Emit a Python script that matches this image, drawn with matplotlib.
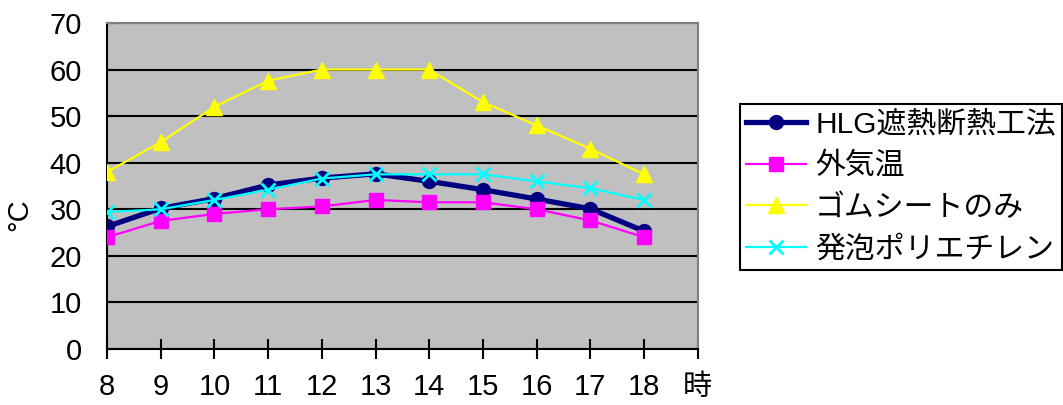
import matplotlib
matplotlib.use('Agg')
import matplotlib.pyplot as plt

plt.rcParams['font.family'] = ['Liberation Sans', 'Noto Sans CJK JP', 'DejaVu Sans']

hours = [8, 9, 10, 11, 12, 13, 14, 15, 16, 17, 18]
x_ticks = [8, 9, 10, 11, 12, 13, 14, 15, 16, 17, 18, 19]
x_tick_labels = ['8', '9', '10', '11', '12', '13', '14', '15', '16', '17', '18', '時']

hlg = [26.3, 30.2, 32.3, 35.2, 36.7, 37.6, 36.0, 34.2, 32.2, 30.1, 25.3]
gaikion = [24.0, 27.5, 29.0, 30.0, 30.6, 32.0, 31.5, 31.5, 30.0, 27.6, 24.0]
gomu = [38.0, 44.4, 52.0, 57.6, 60.0, 60.0, 60.0, 53.0, 48.0, 43.0, 37.5]
happo = [29.4, 30.0, 32.0, 34.2, 36.6, 37.5, 37.5, 37.5, 36.0, 34.5, 32.0]

fig = plt.figure(figsize=(10.63, 4.05), dpi=100)
ax = fig.add_axes([0.1007, 0.1383, 0.5557, 0.8050])
ax.set_facecolor('#C0C0C0')

ax.plot(hours, hlg, color='#000080', linewidth=3.8, marker='o', markersize=10,
        label='HLG遮熱断熱工法', zorder=3)
ax.plot(hours, gaikion, color='#FF00FF', linewidth=1.6, marker='s', markersize=10,
        label='外気温', zorder=4)
ax.plot(hours, gomu, color='#FFFF00', linewidth=1.6, marker='^', markersize=11,
        label='ゴムシートのみ', zorder=5)
ax.plot(hours, happo, color='#00FFFF', linewidth=1.6, marker='x', markersize=10,
        markeredgewidth=2, label='発泡ポリエチレン', zorder=6)

ax.set_xlim(8, 19)
ax.set_ylim(0, 70)
ax.set_xticks(x_ticks)
ax.set_xticklabels(x_tick_labels)
ax.set_yticks(range(0, 71, 10))
ax.yaxis.grid(True, color='black', linewidth=1.5)
ax.set_axisbelow(True)

ax.tick_params(axis='x', direction='inout', length=15, width=1.5, labelsize=21, pad=10)
ax.tick_params(axis='y', direction='in', length=5, width=1.5, labelsize=21, pad=18)

ax.spines['left'].set_linewidth(1.5)
ax.spines['bottom'].set_linewidth(1.5)
ax.spines['top'].set_color('#808080')
ax.spines['right'].set_color('#808080')
ax.spines['top'].set_linewidth(1.5)
ax.spines['right'].set_linewidth(1.5)

fig.text(0.018, 0.47, '°C', rotation=90, fontsize=21, ha='center', va='center')

leg = fig.legend(loc='upper left', bbox_to_anchor=(0.696, 0.744), fontsize=21.5,
                 frameon=True, fancybox=False, edgecolor='black', framealpha=1,
                 handlelength=2.0, handletextpad=0.3, borderpad=0.22,
                 labelspacing=0.46, borderaxespad=0)
leg.get_frame().set_linewidth(1.5)

fig.savefig('out.png', dpi=100)
